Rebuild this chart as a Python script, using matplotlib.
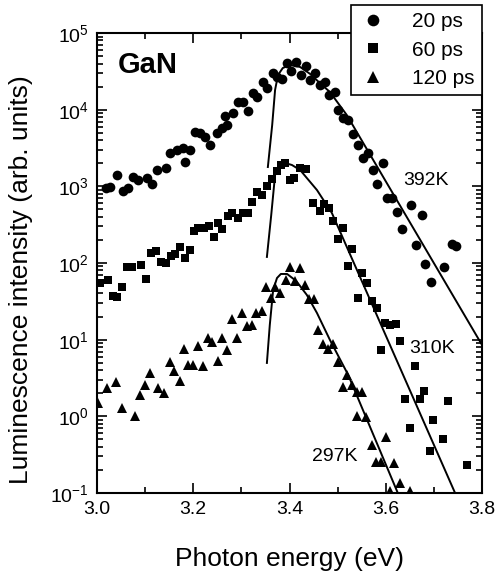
import numpy as np
import matplotlib
matplotlib.use('Agg')
import matplotlib.pyplot as plt
from matplotlib.ticker import LogLocator, MultipleLocator, NullFormatter

plt.rcParams['font.family'] = ['Liberation Sans', 'DejaVu Sans']

# 20 ps (circles)
e20 = [3.019, 3.027, 3.042, 3.054, 3.064, 3.075, 3.085, 3.104, 3.114, 3.125,
       3.143, 3.152, 3.166, 3.179, 3.183, 3.193, 3.204, 3.214, 3.224, 3.235,
       3.249, 3.260, 3.266, 3.270, 3.283, 3.293, 3.303, 3.314, 3.324, 3.332,
       3.345, 3.353, 3.366, 3.374, 3.384, 3.395, 3.403, 3.414, 3.424, 3.434,
       3.443, 3.453, 3.463, 3.474, 3.482, 3.495, 3.501, 3.511, 3.522, 3.532,
       3.542, 3.553, 3.563, 3.574, 3.582, 3.594, 3.603, 3.613, 3.623, 3.634,
       3.652, 3.663, 3.675, 3.682, 3.694, 3.721, 3.738, 3.746]
i20 = [951, 980, 1406, 869, 951, 1325, 1211, 1286, 1072, 1633,
       1734, 2723, 2980, 3162, 2076, 2980, 5117, 4965, 4406, 3462,
       4965, 5768, 8262, 6310, 9054, 12589, 12589, 9616, 16480, 14620,
       22960, 19190, 30060, 26660, 25120, 40630, 31930, 41880, 28300, 37150,
       24400, 30060, 20990, 22960, 15520, 16980, 9900, 7780, 7330, 4820,
       3460, 2345, 2723, 1633, 1072, 2014, 705, 705, 462, 278,
       571, 172, 423, 97, 56.5, 88.7, 177, 167]

# 60 ps (squares)
e60 = [3.006, 3.023, 3.033, 3.042, 3.052, 3.062, 3.073, 3.091, 3.102, 3.112,
       3.123, 3.133, 3.143, 3.154, 3.162, 3.172, 3.183, 3.193, 3.202, 3.210,
       3.222, 3.233, 3.243, 3.251, 3.260, 3.272, 3.281, 3.293, 3.303, 3.314,
       3.322, 3.332, 3.343, 3.353, 3.364, 3.374, 3.382, 3.391, 3.401, 3.409,
       3.422, 3.434, 3.449, 3.463, 3.472, 3.482, 3.490, 3.501, 3.511, 3.522,
       3.530, 3.542, 3.551, 3.561, 3.571, 3.582, 3.590, 3.598, 3.609, 3.621,
       3.630, 3.640, 3.650, 3.661, 3.671, 3.679, 3.692, 3.698, 3.719, 3.729,
       3.769]
i60 = [54.8, 60, 37.2, 36.1, 48.6, 88.7, 88.7, 94.2, 61.8, 135,
       144, 103, 100, 123, 131, 162, 116, 148, 262, 286,
       286, 304, 218, 333, 278, 410, 449, 386, 449, 449,
       625, 843, 771, 1009, 1247, 1585, 1898, 2014, 1211, 1286,
       1734, 1683, 607, 476, 589, 521, 353, 206, 286, 91.4,
       152, 35, 74.1, 54.8, 31.9, 25.9, 7.33, 16.5, 15.5, 16.0,
       9.62, 1.68, 0.705, 4.54, 1.68, 2.14, 0.353, 0.895, 0.507, 1.585,
       0.232]

# 120 ps (triangles)
e120 = [3.002, 3.021, 3.039, 3.052, 3.079, 3.089, 3.100, 3.110, 3.127, 3.139,
        3.152, 3.160, 3.172, 3.181, 3.189, 3.199, 3.210, 3.220, 3.231, 3.239,
        3.251, 3.260, 3.270, 3.281, 3.291, 3.301, 3.312, 3.322, 3.330, 3.343,
        3.351, 3.362, 3.370, 3.380, 3.393, 3.401, 3.411, 3.422, 3.432, 3.441,
        3.451, 3.459, 3.470, 3.480, 3.490, 3.501, 3.511, 3.519, 3.530, 3.540,
        3.540, 3.551, 3.559, 3.571, 3.580, 3.590, 3.601, 3.617, 3.609, 3.630,
        3.650]
i120 = [1.49, 2.34, 2.81, 1.29, 1.01, 1.90, 2.56, 3.67, 2.34, 2.01,
        5.12, 3.90, 2.89, 7.55, 4.68, 4.68, 8.28, 4.54, 10.5, 9.33,
        5.27, 10.5, 7.33, 18.6, 10.5, 22.3, 15.1, 15.5, 22.3, 23.7,
        48.6, 35.0, 48.6, 40.6, 60, 88.7, 58.2, 86.1, 51.6, 33.9,
        33.9, 13.4, 8.79, 7.55, 8.79, 5.12, 2.42, 3.46, 2.56, 2.08,
        1.01, 2.08, 0.98, 0.423, 0.254, 0.254, 0.538, 0.247, 0.106, 0.135,
        0.106]

# fitted curves
fit392_e = [3.355, 3.364, 3.370, 3.376, 3.386, 3.401, 3.422, 3.443, 3.463, 3.484, 3.519, 3.800]
fit392_i = [1786, 6310, 18070, 28300, 34930, 38250, 36050, 29190, 22280, 16980, 8510, 8.53]
fit310_e = [3.353, 3.362, 3.370, 3.378, 3.391, 3.405, 3.422, 3.457, 3.488, 3.744]
fit310_i = [120, 423, 1406, 1786, 2014, 1898, 1633, 895, 449, 0.1]
fit297_e = [3.353, 3.359, 3.366, 3.374, 3.382, 3.395, 3.414, 3.436, 3.457, 3.484, 3.522, 3.625]
fit297_i = [4.97, 15.5, 44.5, 63.7, 71.9, 71.9, 58.2, 38.3, 22.3, 9.91, 3.46, 0.1]

fig = plt.figure(figsize=(4.96, 5.81), dpi=100)
ax = fig.add_axes([0.1956, 0.1515, 0.7762, 0.7917])

ax.plot(e20, i20, 'o', color='black', ms=7, mew=0, label='20 ps')
ax.plot(e60, i60, 's', color='black', ms=6, mew=0, label='60 ps')
ax.plot(e120, i120, '^', color='black', ms=7, mew=0, label='120 ps')

for fe, fi in [(fit392_e, fit392_i), (fit310_e, fit310_i), (fit297_e, fit297_i)]:
    ax.plot(fe, fi, '-', color='black', lw=1.4)

ax.set_yscale('log')
ax.set_xlim(3.0, 3.8)
ax.set_ylim(1e-1, 1e5)
ax.xaxis.set_major_locator(MultipleLocator(0.2))
ax.xaxis.set_minor_locator(MultipleLocator(0.1))
ax.xaxis.set_major_formatter(matplotlib.ticker.FormatStrFormatter('%.1f'))
ax.yaxis.set_major_locator(LogLocator(base=10, numticks=10))
ax.yaxis.set_minor_locator(LogLocator(base=10, subs=np.arange(2, 10), numticks=20))
ax.yaxis.set_minor_formatter(NullFormatter())

ax.tick_params(which='both', direction='in', top=True, right=True, width=1.2, colors='black')
ax.tick_params(which='major', length=7, labelsize=14, pad=6)
ax.tick_params(which='minor', length=4)
for s in ax.spines.values():
    s.set_linewidth(1.5)

ax.set_xlabel('Photon energy (eV)', fontsize=19, labelpad=21)
ax.set_ylabel('Luminescence intensity (arb. units)', fontsize=19)
ax.yaxis.set_label_coords(-0.165, 0.463)

ax.text(0.055, 0.93, 'GaN', transform=ax.transAxes, fontsize=21, fontweight='bold', va='center')
ax.text(3.683, 10 ** 3.07, '392K', fontsize=14, ha='center', va='center')
ax.text(3.697, 10 ** 0.89, '310K', fontsize=14, ha='center', va='center')
ax.text(3.494, 10 ** -0.53, '297K', fontsize=14, ha='center', va='center')

leg = ax.legend(loc='upper right', bbox_to_anchor=(0.9718, 0.9914), bbox_transform=fig.transFigure,
                fontsize=15, frameon=True, fancybox=False, framealpha=1, edgecolor='black',
                handletextpad=1.2, handlelength=1.4, borderpad=0.35, labelspacing=0.45,
                markerscale=1.2, borderaxespad=0)
leg.get_frame().set_linewidth(1.2)
leg.set_zorder(10)

fig.savefig('out.png', dpi=100)
